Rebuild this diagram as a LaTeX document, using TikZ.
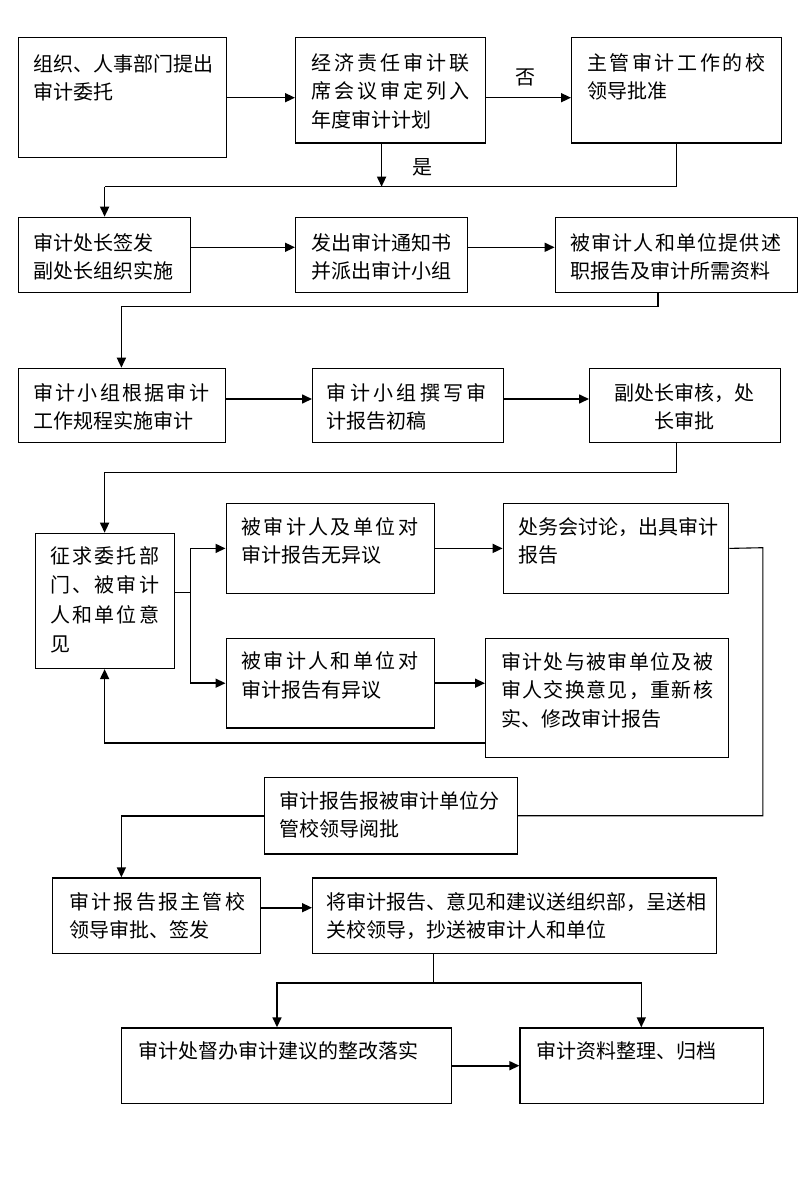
\documentclass[tikz,border=0pt]{standalone}
\usepackage{fontspec}
\newfontfamily\cjk{Noto Sans CJK SC}
\usetikzlibrary{arrows.meta}
\def\spreadA#1{#1\spreadB}
\def\spreadB#1{\ifx\relax#1\else\hfil#1\expandafter\spreadB\fi}
\newcommand\spreadtxt[2]{\makebox[#1pt][s]{\spreadA#2\relax}}
\tikzset{
 box/.style={draw, line width=1.4pt, anchor=north west, inner sep=0pt},
 txt/.style={font=\cjk\fontsize{20}{28.5}\selectfont, anchor=west, align=left, inner sep=0pt},
 arr/.style={line width=1.6pt, -{Triangle[length=10pt,width=9pt]}},
 ln/.style={line width=1.1pt},
}
\begin{document}
\begin{tikzpicture}[x=1pt,y=-1pt]
\useasboundingbox (0,0) rectangle (800,1201);
% boxes
\node[box, minimum width=207.5, minimum height=120] (A) at (18,37) {};
\node[box, minimum width=190, minimum height=105.5] (B) at (295,37) {};
\node[box, minimum width=210, minimum height=105.5] (C) at (571,37) {};
\node[box, minimum width=172, minimum height=75] (D) at (18,216.7) {};
\node[box, minimum width=172, minimum height=75] (E) at (295,216.7) {};
\node[box, minimum width=242.4, minimum height=75] (F) at (554.6,216.7) {};
\node[box, minimum width=206.5, minimum height=74] (G) at (18,367.7) {};
\node[box, minimum width=190.5, minimum height=74] (H) at (312,367.7) {};
\node[box, minimum width=190.6, minimum height=74] (I) at (589,367.7) {};
\node[box, minimum width=138.8, minimum height=135] (J) at (34.7,532.7) {};
\node[box, minimum width=208.2, minimum height=90] (K) at (225.5,502.7) {};
\node[box, minimum width=225.4, minimum height=90] (L) at (502.6,502.7) {};
\node[box, minimum width=208.2, minimum height=89.6] (M) at (225.5,637.7) {};
\node[box, minimum width=243, minimum height=119.3] (N) at (485,637.7) {};
\node[box, minimum width=253, minimum height=76.6] (O) at (263.8,776.7) {};
\node[box, minimum width=208, minimum height=75.4] (P) at (52,877.3) {};
\node[box, minimum width=404, minimum height=75.4] (Q) at (312,877.3) {};
\node[box, minimum width=329.5, minimum height=75.4] (R) at (121,1027.3) {};
\node[box, minimum width=243.4, minimum height=75.4] (S) at (519.4,1027.3) {};
% texts
\node[txt] (At) at (33,78) {组织、人事部门提出\\审计委托};
\node[txt] (Bt) at (311,91) {\spreadtxt{158}{经济责任审计联}\\\spreadtxt{158}{席会议审定列入}\\年度审计计划};
\node[txt] (Ct) at (587,77) {\spreadtxt{178}{主管审计工作的校}\\领导批准};
\node[txt] (Dt) at (33,257) {审计处长签发\\副处长组织实施};
\node[txt] (Et) at (311,257) {发出审计通知书\\并派出审计小组};
\node[txt] (Ft) at (570,257) {\spreadtxt{211}{被审计人和单位提供述}\\职报告及审计所需资料};
\node[txt] (Gt) at (33,407) {\spreadtxt{176}{审计小组根据审计}\\工作规程实施审计};
\node[txt] (Ht) at (326.5,407) {\spreadtxt{160}{审计小组撰写审}\\计报告初稿};
\node[txt, anchor=center, align=center] (It) at (684.5,407) {副处长审核，处\\长审批};
\node[txt, font=\cjk\fontsize{20}{29.3}\selectfont] (Jt) at (50,600) {\spreadtxt{109}{征求委托部}\\\spreadtxt{109}{门、被审计}\\\spreadtxt{109}{人和单位意}\\见};
\node[txt] (Kt) at (241,541) {\spreadtxt{177}{被审计人及单位对}\\审计报告无异议};
\node[txt] (Lt) at (518,541) {处务会讨论，出具审计\\报告};
\node[txt] (Mt) at (241,675.5) {\spreadtxt{177}{被审计人和单位对}\\审计报告有异议};
\node[txt] (Nt) at (501,690) {\spreadtxt{212}{审计处与被审单位及被}\\\spreadtxt{212}{审人交换意见，重新核}\\实、修改审计报告};
\node[txt] (Ot) at (279.6,815) {审计报告报被审计单位分\\管校领导阅批};
\node[txt] (Pt) at (69,916) {\spreadtxt{176}{审计报告报主管校}\\领导审批、签发};
\node[txt] (Qt) at (326.5,916) {将审计报告、意见和建议送组织部，呈送相\\关校领导，抄送被审计人和单位};
\node[txt] (Rt) at (138,1051) {审计处督办审计建议的整改落实};
\node[txt] (St) at (536,1051) {审计资料整理、归档};
\node[txt, anchor=center] (no) at (525,77) {否};
\node[txt, anchor=center] (yes) at (422,167) {是};
% connectors row 1
\coordinate (b1) at (381.6,186.7);
\coordinate (c1) at (676.5,186.7);
\coordinate (d1) at (104.6,186.7);
\draw[arr] (A.east) -- (A.east -| B.west);
\draw[arr] (A.east -| B.east) -- (A.east -| C.west);
\draw[arr] (B.south -| b1) -- (b1);
\draw[ln] (C.south -| c1) -- (c1) -- (d1);
\draw[arr] (d1) -- (d1 |- D.north);
% row 2
\coordinate (r2) at (0,247.3);
\draw[arr] (D.east |- r2) -- (E.west |- r2);
\draw[arr] (E.east |- r2) -- (F.west |- r2);
\coordinate (f1) at (658,306.7);
\coordinate (f2) at (121.4,306.7);
\draw[ln] (F.south -| f1) -- (f1) -- (f2);
\draw[arr] (f2) -- (f2 |- G.north);
% row 3
\coordinate (r3) at (0,399);
\draw[arr] (G.east |- r3) -- (H.west |- r3);
\draw[arr] (H.east |- r3) -- (I.west |- r3);
\coordinate (i1) at (676.5,472.3);
\coordinate (i2) at (104.6,472.3);
\draw[ln] (I.south -| i1) -- (i1) -- (i2);
\draw[arr] (i2) -- (i2 |- J.north);
% branch
\coordinate (jb) at (190.3,592.7);
\draw[ln] (J.east |- jb) -- (jb);
\draw[arr] (jb) |- (K.west);
\draw[arr] (jb) |- (M.west);
\draw[arr] (K.east) -- (L.west);
\draw[arr] (M.east) -- (M.east -| N.west);
\coordinate (n1) at (104.6,742.7);
\draw[arr] (N.west |- n1) -- (n1) -- (n1 |- J.south);
\coordinate (l1) at (762.8,547.7);
\draw[ln] (L.east) -- (l1) |- (O.east);
\coordinate (o1) at (121.4,817.3);
\draw[arr] (O.west) -| (o1 |- P.north);
% bottom
\coordinate (r4) at (0,907.7);
\draw[arr] (P.east |- r4) -- (Q.west |- r4);
\coordinate (q1) at (433.7,982.7);
\coordinate (q2) at (277,982.7);
\coordinate (q3) at (641.3,982.7);
\draw[ln] (Q.south -| q1) -- (q1);
\draw[arr] (q1) -| (q2 |- R.north);
\draw[arr] (q1) -| (q3 |- S.north);
\draw[arr] (R.east) -- (R.east -| S.west);
\end{tikzpicture}
\end{document}
